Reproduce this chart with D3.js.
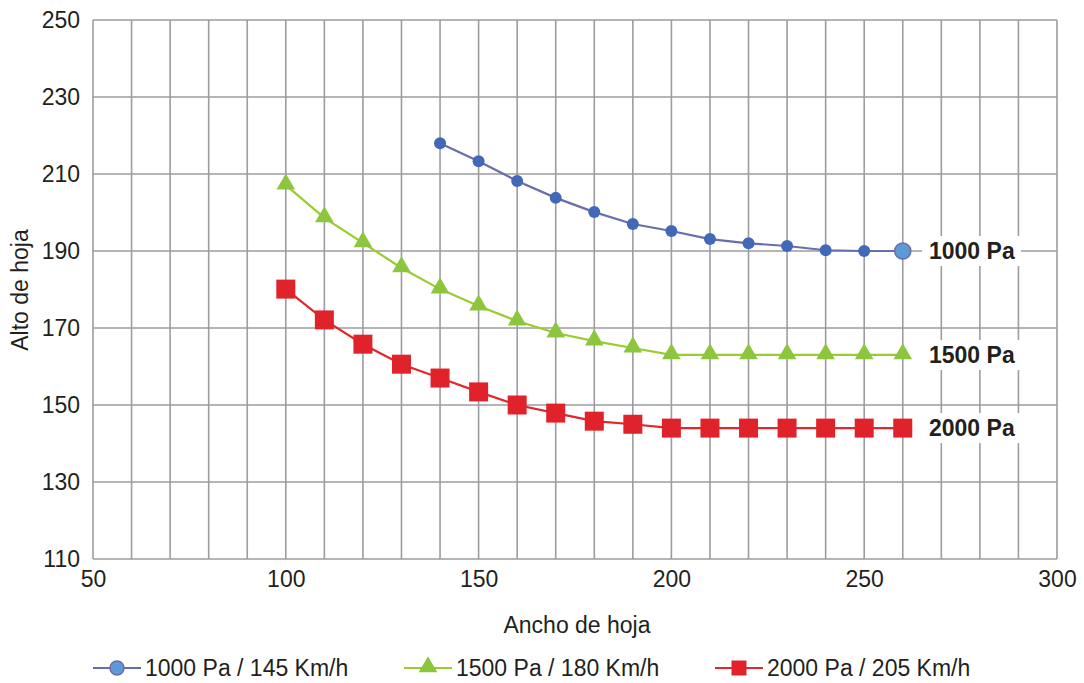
<!DOCTYPE html>
<html><head><meta charset="utf-8">
<script src="https://cdn.jsdelivr.net/npm/d3@7"></script>
<style>body{margin:0;background:#fff;font-family:"Liberation Sans",Arial,sans-serif;}</style>
</head><body><svg id="c" width="1084" height="683" font-family="Liberation Sans, Arial, sans-serif"></svg>
<script>
const xTicks = [50,100,150,200,250,300];
const yTicks = [110,130,150,170,190,210,230,250];
const xs1000 = [140,150,160,170,180,190,200,210,220,230,240,250,260];
const v1000 = [218,213.3,208.2,203.8,200.1,197,195.2,193.1,192,191.3,190.2,190,190];
const xs1500 = [100,110,120,130,140,150,160,170,180,190,200,210,220,230,240,250,260];
const v1500 = [207.1,198.6,192.1,185.6,180.1,175.7,171.8,168.7,166.6,164.8,163,163,163,163,163,163,163];
const xs2000 = [100,110,120,130,140,150,160,170,180,190,200,210,220,230,240,250,260];
const v2000 = [180.1,172.1,165.8,160.6,157,153.4,150,147.9,145.8,145,144,144,144,144,144,144,144];
const endLabels = ["1000 Pa","1500 Pa","2000 Pa"];
const legendLabels = ["1000 Pa / 145 Km/h","1500 Pa / 180 Km/h","2000 Pa / 205 Km/h"];

const FS = 23;
const svg = d3.select("#c");
const L=93,R=1057,T=20,B=559;
const x = d3.scaleLinear().domain([50,300]).range([L,R]);
const y = d3.scaleLinear().domain([110,250]).range([B,T]);
const grid="#9d9da1";
const g = svg.append("g");
d3.range(50,301,10).forEach(v=>{
  g.append("line").attr("x1",x(v)).attr("x2",x(v)).attr("y1",T).attr("y2",B).attr("stroke",grid).attr("stroke-width",1.6);
});
d3.range(110,251,20).forEach(v=>{
  g.append("line").attr("x1",L).attr("x2",R).attr("y1",y(v)).attr("y2",y(v)).attr("stroke",grid).attr("stroke-width",1.6);
});
const yAx = svg.append("g").attr("transform",`translate(${L},0)`).call(d3.axisLeft(y).tickValues(yTicks).tickSize(0).tickPadding(13));
yAx.select(".domain").remove();
yAx.attr("font-size",FS).attr("font-family","Liberation Sans, Arial, sans-serif");
yAx.selectAll("text").attr("fill","#231f20");
const xAx = svg.append("g").attr("transform",`translate(0,${B})`).call(d3.axisBottom(x).tickValues(xTicks).tickSize(0).tickPadding(12));
xAx.select(".domain").remove();
xAx.attr("font-size",FS).attr("font-family","Liberation Sans, Arial, sans-serif");
xAx.selectAll("text").attr("fill","#231f20");

svg.append("text").attr("x",577).attr("y",633).attr("text-anchor","middle").attr("font-size",FS).attr("fill","#231f20").text("Ancho de hoja");
svg.append("text").attr("transform","translate(28,290) rotate(-90)").attr("text-anchor","middle").attr("font-size",FS).attr("fill","#231f20").text("Alto de hoja");

const line = d3.line().x(d=>x(d[0])).y(d=>y(d[1]));
const series = [
  {xs:xs1000, v:v1000, stroke:"#6a6dad", fill:"#4169b8", type:"circle"},
  {xs:xs1500, v:v1500, stroke:"#9acc2c", fill:"#8cc63e", type:"tri"},
  {xs:xs2000, v:v2000, stroke:"#e3262c", fill:"#e0232b", type:"sq"}
];
function marker(sel,type,fill,size){
  if(type==="circle") sel.append("circle").attr("r",size).attr("fill",fill);
  else if(type==="tri") sel.append("path").attr("d",d3.symbol(d3.symbolTriangle,size)()).attr("fill",fill).attr("transform","translate(0,-1)");
  else sel.append("rect").attr("x",-size/2).attr("y",-size/2).attr("width",size).attr("height",size).attr("fill",fill);
}
series.forEach((s,i)=>{
  const data = s.xs.map((xv,j)=>[xv,s.v[j]]);
  svg.append("path").datum(data).attr("d",line).attr("fill","none").attr("stroke",s.stroke).attr("stroke-width",2.2);
  data.forEach((d,j)=>{
    const m = svg.append("g").attr("transform",`translate(${x(d[0])},${y(d[1])})`);
    if(s.type==="circle"){
      if(j===data.length-1){ m.append("circle").attr("r",8).attr("fill","#5b9bd5").attr("stroke","#6a6dad").attr("stroke-width",1.5); }
      else marker(m,"circle",s.fill,6);
    } else if(s.type==="tri") marker(m,"tri",s.fill,150);
    else marker(m,"sq",s.fill,19);
  });
  const last = data[data.length-1];
  const ly = y(last[1]);
  svg.append("rect").attr("x",922).attr("y",ly-15).attr("width",99).attr("height",30).attr("fill","#fff");
  svg.append("text").attr("x",929).attr("y",ly+8).attr("font-size",FS).attr("font-weight","bold").attr("fill","#231f20").text(endLabels[i]);
});

const legX=[93,404,715];
series.forEach((s,i)=>{
  const ly=668;
  svg.append("line").attr("x1",legX[i]).attr("x2",legX[i]+48).attr("y1",ly).attr("y2",ly).attr("stroke",s.stroke).attr("stroke-width",2.2);
  const m = svg.append("g").attr("transform",`translate(${legX[i]+24},${ly})`);
  if(s.type==="circle") m.append("circle").attr("r",7).attr("fill","#5b9bd5").attr("stroke","#6a6dad").attr("stroke-width",1.5);
  else if(s.type==="tri") marker(m,"tri",s.fill,150);
  else marker(m,"sq",s.fill,15);
  svg.append("text").attr("x",legX[i]+52).attr("y",ly+8).attr("font-size",FS).attr("fill","#231f20").text(legendLabels[i]);
});
</script></body></html>
